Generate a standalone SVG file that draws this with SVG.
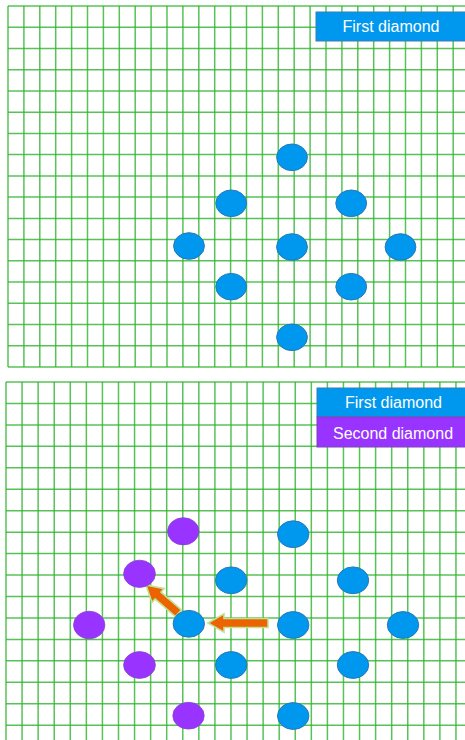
<svg xmlns="http://www.w3.org/2000/svg" width="465" height="740" viewBox="0 0 465 740">
<style>
.grid{fill:none;stroke:#2db42d;stroke-width:1.5;stroke-opacity:0.8}
.blue{fill:#0098ee;stroke:#2a77b5;stroke-width:1}
.purple{fill:#9933ff;stroke:#8a44cc;stroke-width:0.8}
.arrow{fill:#eb6400;stroke:#c2e196;stroke-width:1.6;stroke-linejoin:miter}
.lbl{font-family:"Liberation Sans",Arial,sans-serif;font-size:16px;fill:#ffffff;text-anchor:middle}
.boxb{fill:#0098ee;stroke:#3b7db5;stroke-width:1}
.boxp{fill:#9933ff;stroke:#7f45b8;stroke-width:1}
</style>
<rect width="465" height="740" fill="#ffffff"/>
<g id="grid-top">
<path class="grid" d="M8 6V367M23.9 6V367M39.8 6V367M55.7 6V367M71.6 6V367M87.5 6V367M103.4 6V367M119.3 6V367M135.2 6V367M151.1 6V367M167 6V367M182.9 6V367M198.8 6V367M214.7 6V367M230.6 6V367M246.5 6V367M262.4 6V367M278.3 6V367M294.2 6V367M310.1 6V367M326 6V367M341.9 6V367M357.8 6V367M373.7 6V367M389.6 6V367M405.5 6V367M421.4 6V367M437.3 6V367M453.2 6V367"/>
<path class="grid" d="M8 6H465M8 27.2H465M8 48.5H465M8 69.7H465M8 90.9H465M8 112.2H465M8 133.4H465M8 154.6H465M8 175.9H465M8 197.1H465M8 218.4H465M8 239.6H465M8 260.8H465M8 282.1H465M8 303.3H465M8 324.5H465M8 345.8H465M8 367H465"/>
</g>
<g id="grid-bottom">
<path class="grid" d="M6 382V740M22.07 382V740M38.14 382V740M54.21 382V740M70.28 382V740M86.35 382V740M102.42 382V740M118.49 382V740M134.56 382V740M150.63 382V740M166.7 382V740M182.77 382V740M198.84 382V740M214.91 382V740M230.98 382V740M247.05 382V740M263.12 382V740M279.19 382V740M295.26 382V740M311.33 382V740M327.4 382V740M343.47 382V740M359.54 382V740M375.61 382V740M391.68 382V740M407.75 382V740M423.82 382V740M439.89 382V740M455.96 382V740"/>
<path class="grid" d="M6 382H465M6 403.45H465M6 424.9H465M6 446.35H465M6 467.8H465M6 489.25H465M6 510.7H465M6 532.15H465M6 553.6H465M6 575.05H465M6 596.5H465M6 617.95H465M6 639.4H465M6 660.85H465M6 682.3H465M6 703.75H465M6 725.2H465"/>
</g>
<g id="connectors">
<path class="arrow" d="M0 0 L16 -9.2 L16 -4.5 L60 -4.5 L60 4.5 L16 4.5 L16 9.2 Z" transform="translate(208,623)"/>
<path class="arrow" d="M0 0 L16 -9.2 L16 -4.5 L43 -4.5 L43 4.5 L16 4.5 L16 9.2 Z" transform="translate(146,585) rotate(41.2)"/>
</g>
<g id="top-nodes">
<g id="t1"><ellipse class="blue" cx="292" cy="157.3" rx="15.4" ry="13.3"/></g>
<g id="t2"><ellipse class="blue" cx="231.2" cy="203.3" rx="15.4" ry="13.3"/></g>
<g id="t3"><ellipse class="blue" cx="351.2" cy="203.3" rx="15.4" ry="13.3"/></g>
<g id="t4"><ellipse class="blue" cx="189" cy="246" rx="15.4" ry="13.3"/></g>
<g id="t5"><ellipse class="blue" cx="292" cy="247" rx="15.4" ry="13.3"/></g>
<g id="t6"><ellipse class="blue" cx="400.5" cy="247" rx="15.4" ry="13.3"/></g>
<g id="t7"><ellipse class="blue" cx="231.2" cy="286.7" rx="15.4" ry="13.3"/></g>
<g id="t8"><ellipse class="blue" cx="351.2" cy="286.7" rx="15.4" ry="13.3"/></g>
<g id="t9"><ellipse class="blue" cx="292" cy="337.3" rx="15.4" ry="13.3"/></g>
</g>
<g id="bottom-blue-nodes">
<g id="b1"><ellipse class="blue" cx="293.2" cy="534.2" rx="15.7" ry="13.4"/></g>
<g id="b2"><ellipse class="blue" cx="231.2" cy="580.3" rx="15.7" ry="13.4"/></g>
<g id="b3"><ellipse class="blue" cx="353" cy="580.3" rx="15.7" ry="13.4"/></g>
<g id="b4"><ellipse class="blue" cx="188.8" cy="623.8" rx="15.7" ry="13.4"/></g>
<g id="b5"><ellipse class="blue" cx="293.2" cy="625" rx="15.7" ry="13.4"/></g>
<g id="b6"><ellipse class="blue" cx="403" cy="625" rx="15.7" ry="13.4"/></g>
<g id="b7"><ellipse class="blue" cx="231.2" cy="665" rx="15.7" ry="13.4"/></g>
<g id="b8"><ellipse class="blue" cx="353" cy="665" rx="15.7" ry="13.4"/></g>
<g id="b9"><ellipse class="blue" cx="293.2" cy="716" rx="15.7" ry="13.4"/></g>
</g>
<g id="bottom-purple-nodes">
<g id="p1"><ellipse class="purple" cx="183.3" cy="531.3" rx="15.7" ry="13.6"/></g>
<g id="p2"><ellipse class="purple" cx="139.5" cy="573.8" rx="15.9" ry="13.6"/></g>
<g id="p3"><ellipse class="purple" cx="89.2" cy="625" rx="15.7" ry="13.8"/></g>
<g id="p4"><ellipse class="purple" cx="139.5" cy="665" rx="15.9" ry="13.4"/></g>
<g id="p5"><ellipse class="purple" cx="188.5" cy="715.7" rx="15.7" ry="13.4"/></g>
</g>
<g id="legend-top">
<rect class="boxb" x="316" y="12" width="152" height="29"/>
<text class="lbl" x="391" y="32.3">First diamond</text>
</g>
<g id="legend-bottom-first">
<rect class="boxb" x="317" y="388" width="152" height="29"/>
<text class="lbl" x="393.5" y="408.3">First diamond</text>
</g>
<g id="legend-bottom-second">
<rect class="boxp" x="317" y="417" width="152" height="30"/>
<text class="lbl" x="393" y="438.8">Second diamond</text>
</g>
</svg>
